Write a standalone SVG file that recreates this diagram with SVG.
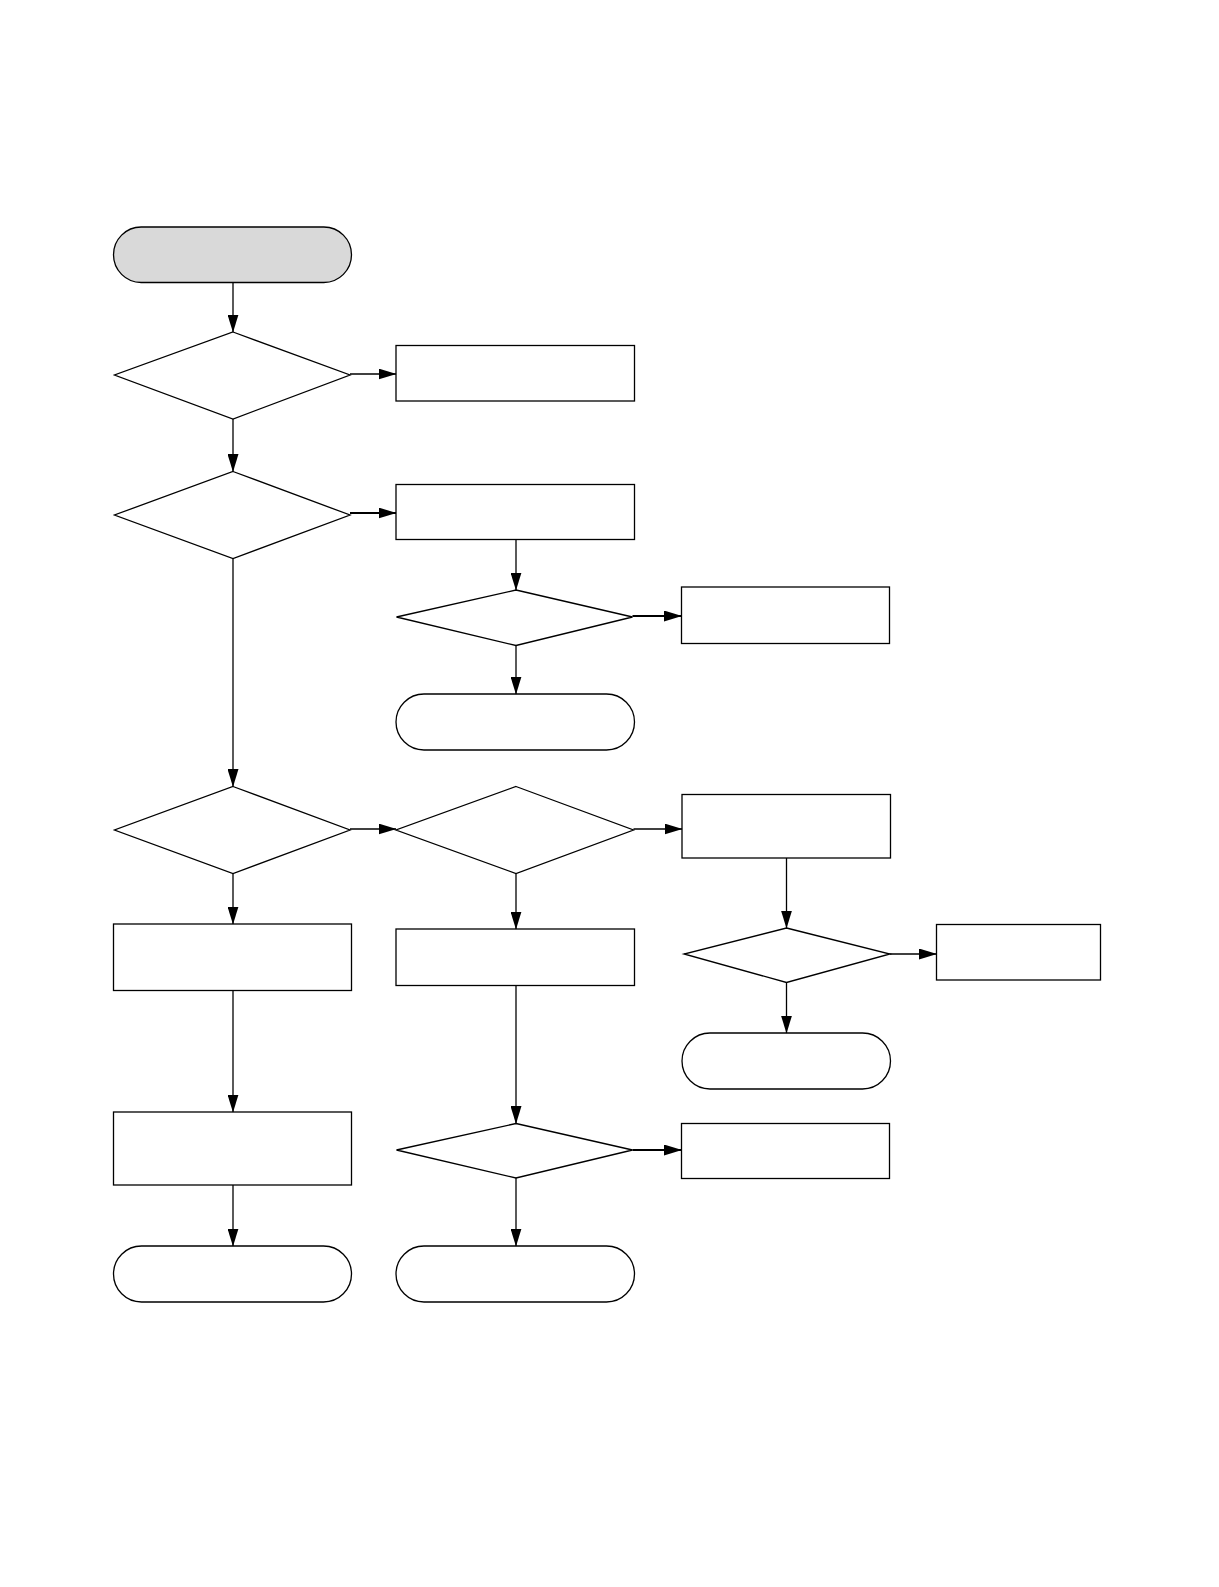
<svg xmlns="http://www.w3.org/2000/svg" width="1219" height="1587" viewBox="0 0 1219 1587">
<style>
.n{fill:#fff;stroke:#000;stroke-width:1.3}
.s{fill:#d9d9d9;stroke:#000;stroke-width:1.3}
.c{fill:none;stroke:#000;stroke-width:1.3;marker-end:url(#ah)}
.t{stroke-width:2.2}
</style>
<defs>
<marker id="ah" markerUnits="userSpaceOnUse" markerWidth="18" markerHeight="11" viewBox="0 0 18 11" refX="17.5" refY="5.5" orient="auto">
<path d="M0,0 L18,5.5 L0,11 Z" fill="#000"/>
</marker>
</defs>
<rect width="1219" height="1587" fill="#fff"/>
<g id="start"><rect class="s" x="113.5" y="227" width="238" height="55.5" rx="27.7"/></g>
<g id="d1"><polygon class="n" points="233,332 350,375 233,419 114.5,375"/></g>
<g id="rA"><rect class="n" x="396" y="345.5" width="238.5" height="55.5"/></g>
<g id="d2"><polygon class="n" points="233,471.5 350,515 233,558.5 114.5,515"/></g>
<g id="rB"><rect class="n" x="396" y="484.5" width="238.5" height="55"/></g>
<g id="d3"><polygon class="n" points="516,590 632.5,617 516,645.5 396.5,617"/></g>
<g id="rC"><rect class="n" x="681.5" y="587" width="208" height="56.5"/></g>
<g id="t2"><rect class="n" x="396" y="694" width="238.5" height="56" rx="28"/></g>
<g id="d4"><polygon class="n" points="233,786.5 350,830 233,873.5 114.5,830"/></g>
<g id="d5"><polygon class="n" points="516,786.5 633.5,830 516,873.5 396,830"/></g>
<g id="rD"><rect class="n" x="682" y="794.5" width="208.5" height="63.5"/></g>
<g id="rE"><rect class="n" x="113.5" y="924" width="238" height="66.5"/></g>
<g id="rF"><rect class="n" x="396" y="929" width="238.5" height="56.5"/></g>
<g id="d6"><polygon class="n" points="786.5,928 890,954 786.5,982.5 684,954"/></g>
<g id="rG"><rect class="n" x="936.5" y="924.5" width="164" height="55.5"/></g>
<g id="t3"><rect class="n" x="682" y="1033" width="208.5" height="56" rx="28"/></g>
<g id="rH"><rect class="n" x="113.5" y="1112" width="238" height="73"/></g>
<g id="d7"><polygon class="n" points="516,1123.5 632.5,1150 516,1178 396.5,1150"/></g>
<g id="rI"><rect class="n" x="681.5" y="1123.5" width="208" height="55"/></g>
<g id="t4"><rect class="n" x="113.5" y="1246" width="238" height="56" rx="28"/></g>
<g id="t5"><rect class="n" x="396" y="1246" width="238.5" height="56" rx="28"/></g>
<g id="connectors">
<path class="c" d="M233,282.5 V332"/>
<path class="c" d="M350,374 H396"/>
<path class="c" d="M233,419 V471.5"/>
<path class="c t" d="M350,513 H396"/>
<path class="c" d="M233,558.5 V786.5"/>
<path class="c" d="M516,539.5 V590"/>
<path class="c t" d="M632.5,616 H681.5"/>
<path class="c" d="M516,645.5 V694"/>
<path class="c" d="M350,829 H396"/>
<path class="c" d="M633.5,829 H682"/>
<path class="c" d="M233,873.5 V924"/>
<path class="c" d="M516,873.5 V929"/>
<path class="c" d="M786.5,858 V928"/>
<path class="c" d="M890,954 H936.5"/>
<path class="c" d="M786.5,982.5 V1033"/>
<path class="c" d="M233,990.5 V1112"/>
<path class="c" d="M516,985.5 V1123.5"/>
<path class="c t" d="M632.5,1150 H681.5"/>
<path class="c" d="M233,1185 V1246"/>
<path class="c" d="M516,1178 V1246"/>
</g>
</svg>
